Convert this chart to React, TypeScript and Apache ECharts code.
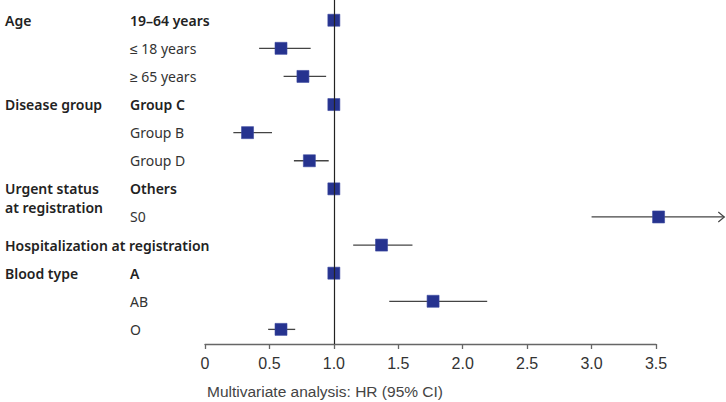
import React, { useEffect, useRef } from "react";
import * as echarts from "echarts";

const groupLabels = ["Age", "", "", "Disease group", "", "", "Urgent status\nat registration", "", "Hospitalization at registration", "Blood type", "", ""];
const subLabels = ["19–64 years", "≤ 18 years", "≥ 65 years", "Group C", "Group B", "Group D", "Others", "S0", "", "A", "AB", "O"];
const isReference = [true, false, false, true, false, false, true, false, false, true, false, false];
const hrValues = [1.0, 0.59, 0.76, 1.0, 0.33, 0.81, 1.0, 3.52, 1.37, 1.0, 1.77, 0.59];
const ciLower = [null, 0.42, 0.61, null, 0.22, 0.69, null, 3.0, 1.15, null, 1.43, 0.49];
const ciUpper = [null, 0.82, 0.94, null, 0.52, 0.96, null, 4.03, 1.61, null, 2.19, 0.7];
const ciTruncated = [false, false, false, false, false, false, false, true, false, false, false, false];
const xTicks = [0, 0.5, 1.0, 1.5, 2.0, 2.5, 3.0, 3.5];
const axisTitle = "Multivariate analysis: HR (95% CI)";

const LABEL_FONT = "'Noto Sans', sans-serif";
const AXIS_FONT = "'Liberation Sans', Arial, sans-serif";

export default function App() {
  const ref = useRef<HTMLDivElement>(null);
  useEffect(() => {
    document.body.style.margin = "0";
    if (!ref.current) return;
    const chart = echarts.init(ref.current, undefined, { renderer: "svg" });
    const data = hrValues.map((v, i) => [i, v, ciLower[i] ?? v, ciUpper[i] ?? v, ciTruncated[i] ? 1 : 0, isReference[i] ? 1 : 0]);
    chart.setOption({
      animation: false,
      grid: { left: 205, right: 70, top: 0, bottom: 58 },
      xAxis: {
        type: "value",
        position: "bottom",
        min: xTicks[0],
        max: xTicks[xTicks.length - 1],
        interval: 0.5,
        axisLine: { show: true, onZero: false, lineStyle: { color: "#666", width: 1.3 } },
        axisTick: { show: true, length: 5, lineStyle: { color: "#666", width: 1.3 } },
        splitLine: { show: false },
        axisLabel: {
          margin: 11,
          fontFamily: AXIS_FONT,
          fontSize: 16,
          color: "#333",
          formatter: (v: number) => (v === 0 ? "0" : v.toFixed(1)),
        },
      },
      yAxis: {
        type: "value",
        inverse: true,
        min: -0.72,
        max: 11.52,
        show: false,
        splitLine: { show: false },
      },
      graphic: [
        {
          type: "text",
          left: 207,
          top: 383,
          style: { text: axisTitle, fontFamily: AXIS_FONT, fontSize: 15.5, fill: "#444" },
        },
      ],
      series: [
        {
          type: "custom",
          clip: false,
          data,
          encode: { x: [1, 2, 3], y: 0 },
          renderItem: (params: any, api: any) => {
            const i = api.value(0);
            const est = api.value(1);
            const lo = api.value(2);
            const hi = api.value(3);
            const trunc = api.value(4) === 1;
            const isRef = api.value(5) === 1;
            const p = api.coord([est, i]);
            const pl = api.coord([lo, i]);
            const ph = api.coord([hi, i]);
            const children: any[] = [];
            if (hi > lo) {
              children.push({
                type: "line",
                shape: { x1: pl[0], y1: pl[1], x2: ph[0], y2: ph[1] },
                style: { stroke: "#444", lineWidth: 1.3 },
              });
            }
            if (trunc) {
              children.push({
                type: "polyline",
                shape: { points: [[ph[0] - 6, ph[1] - 5], [ph[0], ph[1]], [ph[0] - 6, ph[1] + 5]] },
                style: { stroke: "#444", lineWidth: 1.2, fill: "none" },
              });
            }
            children.push({
              type: "rect",
              shape: { x: p[0] - 6, y: p[1] - 6, width: 12, height: 12 },
              style: { fill: "#26338f", stroke: "#3b48a0", lineWidth: 0.6 },
            });
            const sub = subLabels[i];
            if (sub) {
              children.push({
                type: "text",
                style: {
                  x: 130,
                  y: p[1],
                  text: sub,
                  fontFamily: LABEL_FONT,
                  fontSize: 14,
                  fontWeight: isRef ? 600 : 400,
                  fill: isRef ? "#222" : "#333",
                  verticalAlign: "middle",
                  align: "left",
                },
              });
            }
            const grp = groupLabels[i];
            if (grp) {
              const multi = grp.indexOf("\n") >= 0;
              children.push({
                type: "text",
                style: {
                  x: 5,
                  y: multi ? p[1] - 10 : p[1],
                  text: grp,
                  fontFamily: LABEL_FONT,
                  fontSize: 14,
                  fontWeight: 600,
                  lineHeight: 19,
                  fill: "#222",
                  verticalAlign: multi ? "top" : "middle",
                  align: "left",
                },
              });
            }
            return { type: "group", children };
          },
          markLine: {
            silent: true,
            symbol: "none",
            label: { show: false },
            lineStyle: { color: "#222", width: 1.2, type: "solid" },
            data: [{ xAxis: 1 }],
          },
          z: 3,
        },
      ],
    });
    return () => chart.dispose();
  }, []);
  return <div ref={ref} style={{ width: 726, height: 402 }} />;
}
